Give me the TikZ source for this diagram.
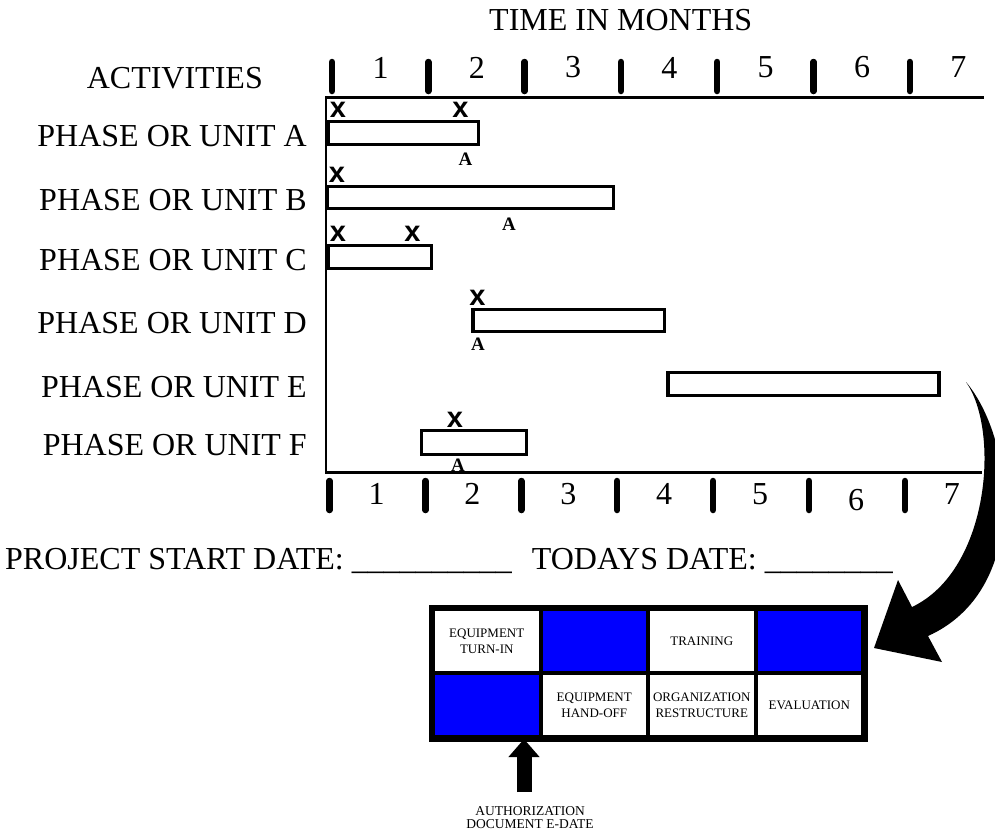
\documentclass[tikz,border=0pt]{standalone}
\usepackage{fontspec}
\setmainfont{Liberation Serif}
\newfontfamily\markfont{Liberation Sans}
\usetikzlibrary{arrows.meta, positioning}
\definecolor{cellblue}{RGB}{0,0,255}

\begin{document}
\begin{tikzpicture}[
  x=1pt, y=-1pt,
  big/.style={inner sep=0pt, font=\fontsize{32}{38}\selectfont},
  xmark/.style={inner sep=0pt, font=\markfont\bfseries\fontsize{29}{32}\selectfont},
  amark/.style={inner sep=0pt, font=\bfseries\fontsize{19}{22}\selectfont},
  bar/.style={draw, line width=3.5pt, fill=white},
  axis/.style={line width=3pt},
  tickmark/.style={line width=6.5pt, line cap=round},
  cell/.style={draw, line width=4pt, minimum width=107.5pt, minimum height=64pt, inner sep=0pt, align=center, font=\fontsize{13}{16}\selectfont},
  bluecell/.style={cell, fill=cellblue},
  blockarrow/.style={line width=15pt, -{Triangle[width=30pt, length=18pt]}}
]
  \useasboundingbox (0,0) rectangle (995,833);

  % headings
  \node[big, anchor=base west] (timelbl) at (489,30) {TIME IN MONTHS};
  \node[big, anchor=base east] (actlbl) at (263,88) {ACTIVITIES};

  % month scale, top and bottom
  \foreach \m in {1,...,7} {
    \draw[tickmark] ({332+96.3*(\m-1)},62) -- ++(0,29);
    \node[big] (topnum\m) at ({380.5+96.3*(\m-1)},67.5) {\m};
    \draw[tickmark] ({329.5+95.9*(\m-1)},481) -- ++(0,29);
  }
  \foreach \m/\yc in {1/494,2/494,3/494,4/494,5/494,6/500,7/494}
    \node[big] (botnum\m) at ({376.5+95.9*(\m-1)},\yc) {\m};
  \draw[axis] (325,97) -- (984,97);
  \draw[axis] (325,472) -- (982,472);
  \draw[line width=2.5pt] (326,96) -- (326,473);

  % activities
  \foreach \u/\yb in {A/146,B/210,C/270,D/333,E/397,F/455}
    \node[big, anchor=base east] (unit\u) at (307,\yb) {PHASE OR UNIT \u};

  \draw[bar] (328,121.5) rectangle (478.5,144.5);
  \draw[bar] (327.5,186.5) rectangle (613.5,208.5);
  \draw[bar] (328,245.5) rectangle (431.5,268.5);
  \draw[bar] (473,309.5) rectangle (664.5,331.5);
  \draw[bar] (668,372.5) rectangle (939,395.5);
  \draw[bar] (421.5,430.5) rectangle (526.5,454.5);

  \node[xmark] (xa1) at (338,110) {x};
  \node[xmark] (xa2) at (460.5,110) {x};
  \node[xmark] (xb1) at (337,175) {x};
  \node[xmark] (xc1) at (338,234) {x};
  \node[xmark] (xc2) at (412.5,234) {x};
  \node[xmark] (xd1) at (477.5,298) {x};
  \node[xmark] (xf1) at (455,419.5) {x};

  \node[amark] (aa) at (465.5,159) {A};
  \node[amark] (ab) at (509,224.5) {A};
  \node[amark] (ad) at (478,344.5) {A};
  \node[amark] (af) at (458,465) {A};

  \node[big, anchor=base west] (dates) at (5,569)
    {PROJECT START DATE: \_\_\_\_\_\_\_\_\_\_\hspace{20pt}TODAYS DATE: \_\_\_\_\_\_\_\_};

  % status boxes
  \node[cell] (c11) at (486.75,641) {EQUIPMENT\\TURN-IN};
  \node[bluecell] (c12) at (594.25,641) {};
  \node[cell] (c13) at (701.75,641) {TRAINING};
  \node[bluecell] (c14) at (809.25,641) {};
  \node[bluecell] (c21) at (486.75,705) {};
  \node[cell] (c22) at (594.25,705) {EQUIPMENT\\HAND-OFF};
  \node[cell] (c23) at (701.75,705) {ORGANIZATION\\RESTRUCTURE};
  \node[cell] (c24) at (809.25,705) {EVALUATION};
  \draw[line width=5pt] (c11.north west) rectangle (c24.south east);

  \node[inner sep=0pt, align=center, font=\fontsize{13.5}{13}\selectfont] (authlbl) at (530,818) {AUTHORIZATION\\DOCUMENT E-DATE};
  \coordinate (authtail) at (524,792);
  \draw[blockarrow] (authtail) -- (authtail |- c21.south);

  % curved block arrow from the chart down to the boxes
  \fill (966,382) .. controls (1015,440) and (1030,590) .. (928,636)
    -- (942,662) -- (874,648) -- (898,580) -- (912,607)
    .. controls (990,570) and (1000,430) .. (966,382) -- cycle;
\end{tikzpicture}
\end{document}
